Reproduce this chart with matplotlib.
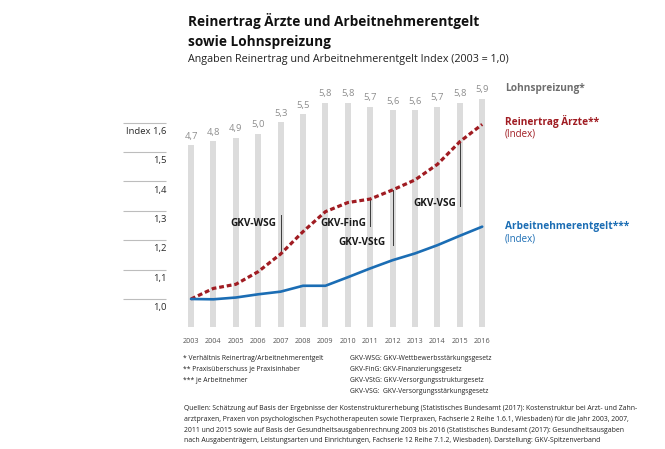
import matplotlib
matplotlib.use('Agg')
import matplotlib.pyplot as plt
import numpy as np

# ---------------- data ----------------
years = [2003, 2004, 2005, 2006, 2007, 2008, 2009, 2010, 2011, 2012, 2013, 2014, 2015, 2016]
lohnspreizung = [4.7, 4.8, 4.9, 5.0, 5.3, 5.5, 5.8, 5.8, 5.7, 5.6, 5.6, 5.7, 5.8, 5.9]
reinertrag = [1.0, 1.036, 1.05, 1.093, 1.153, 1.229, 1.297, 1.328, 1.34, 1.371, 1.405, 1.458, 1.535, 1.594]
arbeitnehmer = [1.0, 0.999, 1.005, 1.016, 1.025, 1.045, 1.045, 1.074, 1.104, 1.132, 1.155, 1.183, 1.215, 1.246]
ytick_vals = [1.0, 1.1, 1.2, 1.3, 1.4, 1.5, 1.6]
ytick_labels = ['1,0', '1,1', '1,2', '1,3', '1,4', '1,5', 'Index 1,6']
law_names = ['GKV-WSG', 'GKV-FinG', 'GKV-VStG', 'GKV-VSG']
law_years = [2007, 2011, 2012, 2015]

title1 = 'Reinertrag Ärzte und Arbeitnehmerentgelt'
title2 = 'sowie Lohnspreizung'
subtitle = 'Angaben Reinertrag und Arbeitnehmerentgelt Index (2003 = 1,0)'
foot_left = ['* Verhältnis Reinertrag/Arbeitnehmerentgelt',
             '** Praxisüberschuss je Praxisinhaber',
             '*** je Arbeitnehmer']
foot_right = ['GKV-WSG: GKV-Wettbewerbsstärkungsgesetz',
              'GKV-FinG: GKV-Finanzierungsgesetz',
              'GKV-VStG: GKV-Versorgungsstrukturgesetz',
              'GKV-VSG:  GKV-Versorgungsstärkungsgesetz']
sources = ['Quellen: Schätzung auf Basis der Ergebnisse der Kostenstrukturerhebung (Statistisches Bundesamt (2017): Kostenstruktur bei Arzt- und Zahn-',
           'arztpraxen, Praxen von psychologischen Psychotherapeuten sowie Tierpraxen, Fachserie 2 Reihe 1.6.1, Wiesbaden) für die Jahr 2003, 2007,',
           '2011 und 2015 sowie auf Basis der Gesundheitsausgabenrechnung 2003 bis 2016 (Statistisches Bundesamt (2017): Gesundheitsausgaben',
           'nach Ausgabenträgern, Leistungsarten und Einrichtungen, Fachserie 12 Reihe 7.1.2, Wiesbaden). Darstellung: GKV-Spitzenverband']

RED = '#a01c22'
BLUE = '#1b6db4'
GREYBAR = '#dcdcdc'
GREYTXT = '#8e8e8e'

plt.rcParams['font.family'] = ['Open Sans', 'DejaVu Sans']

W, H = 665, 449
fig = plt.figure(figsize=(W / 100, H / 100), dpi=100)
fig.patch.set_facecolor('white')

def fx(x):
    return x / W

def fy(y):
    return 1 - y / H

renderer = fig.canvas.get_renderer()

def fit(t, width_px):
    bb = t.get_window_extent(renderer)
    t.set_fontsize(t.get_fontsize() * width_px / bb.width)
    return t

# axes: bars (base) and index lines (twin)
ax_left, ax_right, ax_bot, ax_top = 179.8, 493.4, 327.0, 95.0
ax = fig.add_axes([fx(ax_left), fy(ax_bot), (ax_right - ax_left) / W, (ax_bot - ax_top) / H])
ax2 = ax.twinx()
ax2.set_zorder(ax.get_zorder() + 1)
ax2.patch.set_visible(False)

x = np.arange(len(years))
ax.bar(x, lohnspreizung, width=0.27, color=GREYBAR, zorder=1)
ax.set_xlim(-0.5, len(years) - 0.5)
ax.set_ylim(0, 6.0)

px_per_unit = 294.0
y_one_px = 299.0
ylo = 1.0 - (ax_bot - y_one_px) / px_per_unit
yhi = 1.0 + (y_one_px - ax_top) / px_per_unit
ax2.set_ylim(ylo, yhi)

for a in (ax, ax2):
    for s in a.spines.values():
        s.set_visible(False)
    a.set_xticks([])
    a.set_yticks([])

# bar value labels
for i, v in enumerate(lohnspreizung):
    ax.annotate(f'{v:.1f}'.replace('.', ','), xy=(i, v), xytext=(0, 6.5),
                textcoords='offset points', ha='center', va='center',
                fontsize=6.8, color=GREYTXT)

# year labels
for i, yv in enumerate(years):
    ax.annotate(str(yv), xy=(i, 0), xycoords=('data', 'axes fraction'),
                xytext=(0, -10.2), textcoords='offset points', ha='center', va='center',
                fontsize=5.2, color='#555555')

# lines
ax2.plot(x, reinertrag, color=RED, lw=2.3, dashes=(1.5, 0.9), solid_capstyle='butt',
         dash_capstyle='butt', zorder=3)
ax2.plot(x, arbeitnehmer, color=BLUE, lw=1.9, solid_capstyle='round', zorder=3)

# y grid + labels (outside left)
gx0 = (123 - ax_left) / (ax_right - ax_left)
gx1 = (166 - ax_left) / (ax_right - ax_left)
ax2.hlines(ytick_vals, gx0, gx1, transform=ax2.get_yaxis_transform(), clip_on=False,
           color='#bdbdbd', lw=0.8)
for v, lab in zip(ytick_vals, ytick_labels):
    ax2.annotate(lab, xy=(gx1, v), xycoords=('axes fraction', 'data'),
                 xytext=(0.5, -6.3), textcoords='offset points', ha='right', va='center',
                 fontsize=6.8, color='#2a2a2a')

# law annotations (layout in pixels)
def pxv(py):
    return 1.0 + (y_one_px - py) / px_per_unit

law_line_end = [215, 226, 245, 206]
law_text_y = [223, 223, 242, 203]
law_text_gap = [0.18, 0.18, 0.3, 0.18]
for name, yr, ye, ty, gap in zip(law_names, law_years, law_line_end, law_text_y, law_text_gap):
    i = years.index(yr)
    ax2.plot([i, i], [reinertrag[i], pxv(ye)], color='#3a3a3a', lw=0.7, zorder=2)
    ax2.text(i - gap, pxv(ty), name, ha='right', va='center', fontsize=7.2,
             fontweight='bold', color='#1a1a1a', zorder=4)

# right side labels
fig.text(fx(505), fy(90.5), 'Lohnspreizung*', fontsize=7.3, fontweight='bold',
         color='#6e6e6e', va='baseline', ha='left')
fig.text(fx(505), fy(125.5), 'Reinertrag Ärzte**', fontsize=7.3, fontweight='bold',
         color=RED, va='baseline', ha='left')
fig.text(fx(505), fy(136.5), '(Index)', fontsize=7.0, color=RED, va='baseline', ha='left')
fig.text(fx(505), fy(229.5), 'Arbeitnehmerentgelt***', fontsize=7.3, fontweight='bold',
         color=BLUE, va='baseline', ha='left')
fig.text(fx(505), fy(241.5), '(Index)', fontsize=7.0, color=BLUE, va='baseline', ha='left')

# titles
t1 = fig.text(fx(188), fy(25.7), title1, fontsize=11, fontweight='bold', color='#111111',
              va='baseline', ha='left')
fit(t1, 290)
t2 = fig.text(fx(188), fy(45.7), title2, fontsize=t1.get_fontsize(), fontweight='bold',
              color='#111111', va='baseline', ha='left')
st = fig.text(fx(188), fy(62.3), subtitle, fontsize=8, color='#222222', va='baseline', ha='left')
fit(st, 322)

# footnotes
fr = []
for k, s in enumerate(foot_right):
    fr.append(fig.text(fx(350), fy(359 + 10.8 * k), s, fontsize=5, color='#222222',
                       va='center', ha='left'))
fit(fr[0], 143)
fsize = fr[0].get_fontsize()
for t in fr[1:]:
    t.set_fontsize(fsize)
for k, s in enumerate(foot_left):
    fig.text(fx(183), fy(359 + 10.8 * k), s, fontsize=fsize, color='#222222',
             va='center', ha='left')

src = []
for k, s in enumerate(sources):
    src.append(fig.text(fx(184), fy(409 + 10.6 * k), s, fontsize=5, color='#222222',
                        va='center', ha='left'))
fit(src[0], 464)
for t in src[1:]:
    t.set_fontsize(src[0].get_fontsize())

fig.savefig('out.png', dpi=100, facecolor='white')
